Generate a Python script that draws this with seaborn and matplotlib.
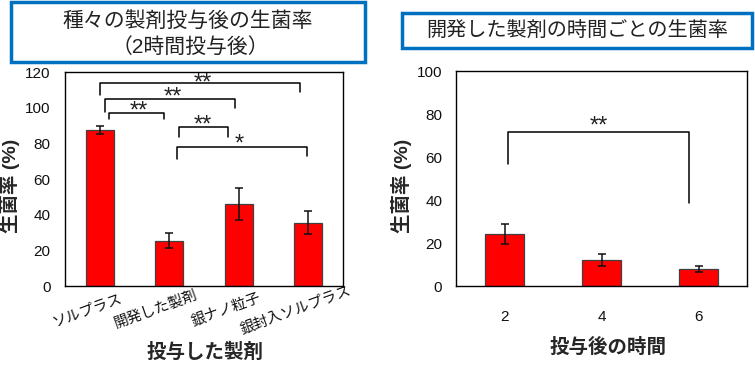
import matplotlib
matplotlib.use('Agg')
import matplotlib.pyplot as plt
import matplotlib.transforms as mtransforms
from matplotlib.patches import Rectangle
import seaborn as sns
import pandas as pd

# Left chart: survival rate per agent (2 h)
agents = ['ソルプラス', '開発した製剤', '銀ナノ粒子', '銀封入ソルプラス']
agent_rate = [87.5, 25.5, 45.8, 35.5]
agent_err = [2.5, 4.3, 9.0, 6.5]

# significance brackets: (left x, right x, top y, left end y, right end y, label)
agent_brackets = [
    (0.00, 2.88, 113.6, 107.0, 108.6, '**'),
    (0.07, 1.94, 104.9, 97.8, 99.7, '**'),
    (0.13, 0.92, 97.2, 93.5, 93.5, '**'),
    (1.14, 1.84, 89.0, 83.8, 83.8, '**'),
    (1.11, 2.98, 78.2, 71.3, 73.0, '*'),
]
agent_star_x = [1.48, 1.05, 0.56, 1.48, 2.0]
agent_star_y = [113.7, 105.8, 98.0, 90.1, 79.4]

# Right chart: survival rate vs time for the developed agent
hours = ['2', '4', '6']
hour_rate = [24.3, 12.1, 7.7]
hour_err = [4.6, 2.8, 1.4]
hour_brackets = [
    (0.04, 1.90, 71.8, 56.7, 38.7, '**'),
]
hour_star_x = [0.97]
hour_star_y = [74.2]

sns.set_style('white')
plt.rcParams['font.family'] = ['Liberation Sans', 'Noto Sans CJK JP']

fig = plt.figure(figsize=(7.55, 3.65), dpi=100)
ax1 = fig.add_axes([0.0861, 0.2164, 0.3682, 0.5863])
ax2 = fig.add_axes([0.604, 0.2164, 0.3854, 0.589])


def draw_bars(ax, cats, vals, errs, ymax):
    df = pd.DataFrame({'cat': cats, 'val': vals})
    sns.barplot(data=df, x='cat', y='val', order=cats, color='#FF0000',
                saturation=1, width=0.4, edgecolor='#404040', linewidth=0.9,
                errorbar=None, ax=ax)
    ax.errorbar(range(len(cats)), vals, yerr=errs, fmt='none',
                ecolor='#111111', elinewidth=1.1, capsize=2.6, capthick=1.1)
    ax.set_ylim(0, ymax)
    ax.set_xlim(-0.5, len(cats) - 0.5)
    for s in ax.spines.values():
        s.set_visible(True)
        s.set_color('black')
        s.set_linewidth(1.0)
    ax.tick_params(length=0, labelsize=11, labelcolor='#111111')


def draw_brackets(ax, brackets, star_x, star_y):
    for (x0, x1, top, y0, y1, lab), sx, sy in zip(brackets, star_x, star_y):
        ax.plot([x0, x0, x1, x1], [y0, top, top, y1], color='black', lw=1.1)
        ax.text(sx, sy, lab, ha='center', va='center',
                fontsize=17, color='#222222')


draw_bars(ax1, agents, agent_rate, agent_err, 120)
ax1.set_yticks(range(0, 121, 20))
ax1.tick_params(axis='y', pad=10.5)
ax1.tick_params(axis='x', pad=17)
ax1.set_xticks(range(len(agents)))
ax1.set_xticklabels(agents, rotation=20, ha='center', va='center', fontsize=10.5)
shift = mtransforms.ScaledTranslation(-0.13, 0, fig.dpi_scale_trans)
for lab in ax1.get_xticklabels():
    lab.set_transform(lab.get_transform() + shift)
draw_brackets(ax1, agent_brackets, agent_star_x, agent_star_y)

draw_bars(ax2, hours, hour_rate, hour_err, 100)
ax2.set_yticks(range(0, 101, 20))
ax2.tick_params(axis='y', pad=10)
ax2.tick_params(axis='x', pad=17)
draw_brackets(ax2, hour_brackets, hour_star_x, hour_star_y)

ax1.set_ylabel('生菌率 (%)', fontsize=14, fontweight='bold')
ax1.yaxis.label.set_verticalalignment('center')
ax1.yaxis.set_label_coords(-0.201, 0.47)
ax1.set_xlabel('投与した製剤', fontsize=14, fontweight='bold')
ax1.xaxis.label.set_verticalalignment('center')
ax1.xaxis.set_label_coords(0.504, -0.308)

ax2.set_ylabel('生菌率 (%)', fontsize=14, fontweight='bold')
ax2.yaxis.label.set_verticalalignment('center')
ax2.yaxis.set_label_coords(-0.186, 0.465)
ax2.set_xlabel('投与後の時間', fontsize=14, fontweight='bold')
ax2.xaxis.label.set_verticalalignment('center')
ax2.xaxis.set_label_coords(0.522, -0.284)

# title boxes
box_color = '#0070C0'
fig.patches.append(Rectangle((11 / 755, 1 - 62 / 365), 354 / 755, 60 / 365,
                             transform=fig.transFigure, fill=False,
                             edgecolor=box_color, linewidth=2.5))
fig.patches.append(Rectangle((402 / 755, 1 - 48 / 365), 350 / 755, 35 / 365,
                             transform=fig.transFigure, fill=False,
                             edgecolor=box_color, linewidth=2.5))
fig.text(188 / 755, 1 - 22 / 365, '種々の製剤投与後の生菌率', ha='center',
         va='center', fontsize=15, color='#222222')
fig.text(190 / 755, 1 - 47 / 365, '（2時間投与後）', ha='center',
         va='center', fontsize=15, color='#222222')
fig.text(577 / 755, 1 - 31 / 365, '開発した製剤の時間ごとの生菌率', ha='center',
         va='center', fontsize=14.5, color='#222222')

fig.savefig('out.png', dpi=100)
